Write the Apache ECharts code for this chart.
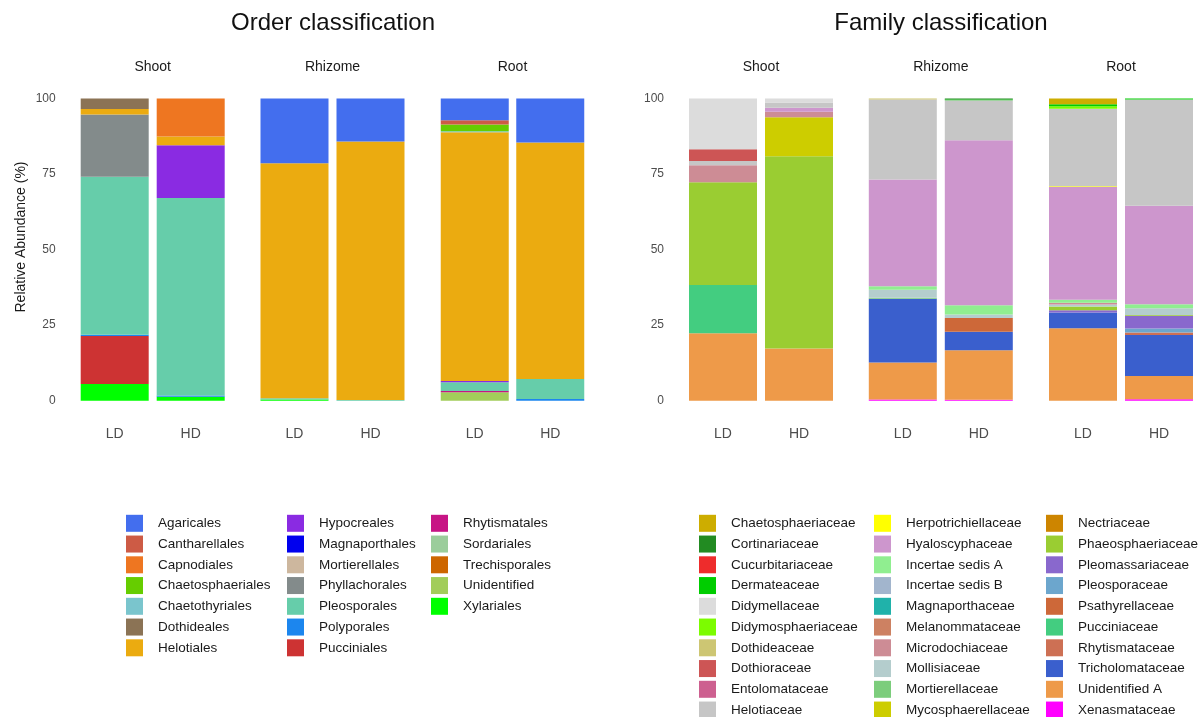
<!DOCTYPE html>
<html>
<head>
<meta charset="utf-8">
<script src="https://cdn.jsdelivr.net/npm/echarts@6/dist/echarts.min.js"></script>
<style>
html,body{margin:0;padding:0;background:#fff;}
#chart{width:1203px;height:717px;}
</style>
</head>
<body>
<div id="chart"></div>
<script>
// ---------- data ----------
var sampleLabels = ['LD', 'HD'];
var facetLabels = ['Shoot', 'Rhizome', 'Root'];
var yTicks = [0, 25, 50, 75, 100];

var orderNames = ['Agaricales','Cantharellales','Capnodiales','Chaetosphaeriales','Chaetothyriales','Dothideales','Helotiales','Hypocreales','Magnaporthales','Mortierellales','Phyllachorales','Pleosporales','Polyporales','Pucciniales','Rhytismatales','Sordariales','Trechisporales','Unidentified','Xylariales'];
var orderColors = ['#436EEE','#CD5B45','#EE7621','#66CD00','#7AC5CD','#8B7355','#EBAB10','#8A2BE2','#0000EE','#CDB79E','#838B8B','#66CDAA','#1C86EE','#CD3333','#C71585','#9BCD9B','#CD6600','#A2CD5A','#00FF00'];
var orderShootLD   = [0,0,0,0,0,3.5,1.8,0,0,0,20.6,52.3,0.4,15.9,0,0,0,0,5.5];
var orderShootHD   = [0,0,12.6,0,0,0,2.9,17.4,0,0,0,65.4,0.4,0,0,0,0,0,1.3];
var orderRhizomeLD = [21.4,0,0,0,0,0,77.8,0,0,0,0,0.4,0,0,0,0,0,0,0.4];
var orderRhizomeHD = [14.2,0,0,0,0,0,85.6,0,0,0,0,0.2,0,0,0,0,0,0,0];
var orderRootLD    = [7.2,1.4,0,2.2,0.4,0,82.3,0.4,0,0,0,2.9,0,0,0.4,0,0,2.8,0];
var orderRootHD    = [14.6,0,0,0,0,0,78.2,0,0,0,0,6.6,0.6,0,0,0,0,0,0];

var familyNames = ['Chaetosphaeriaceae','Cortinariaceae','Cucurbitariaceae','Dermateaceae','Didymellaceae','Didymosphaeriaceae','Dothideaceae','Dothioraceae','Entolomataceae','Helotiaceae','Herpotrichiellaceae','Hyaloscyphaceae','Incertae sedis A','Incertae sedis B','Magnaporthaceae','Melanommataceae','Microdochiaceae','Mollisiaceae','Mortierellaceae','Mycosphaerellaceae','Nectriaceae','Phaeosphaeriaceae','Pleomassariaceae','Pleosporaceae','Psathyrellaceae','Pucciniaceae','Rhytismataceae','Tricholomataceae','Unidentified A','Xenasmataceae'];
var familyColors = ['#CDAD00','#228B22','#EE2C2C','#00CD00','#DCDCDC','#7CFC00','#CDC673','#CD5555','#CD6090','#C6C6C6','#FFFF00','#CD96CD','#90EE90','#A2B5CD','#20B2AA','#CD8162','#CD8C95','#B4CDCD','#7CCD7C','#CDCD00','#CD8500','#9ACD32','#8968CD','#6CA6CD','#CD6839','#43CD80','#CD7054','#3A5FCD','#EE9A49','#FF00FF'];
var familyShootLD   = [0,0,0,0,16.8,0,0,3.9,0,1.4,0,0,0,0,0,0,5.6,0,0,0,0,34.0,0,0,0,16.0,0,0,22.3,0];
var familyShootHD   = [0,0,0,0,1.3,0,0,0,0,1.8,0,1.3,0,0,0,0,1.8,0,0,12.9,0,63.6,0,0,0,0,0,0,17.3,0];
var familyRhizomeLD = [0,0,0,0,0,0,0.3,0,0,26.5,0,35.3,1.2,0,0,0,0,2.6,0.4,0,0,0,0,0,0,0,0,21.1,12.2,0.4];
var familyRhizomeHD = [0,0.3,0,0.3,0,0,0,0,0,13.2,0,54.6,3.1,0,0,0,0,1.1,0,0,0,0,0,0,4.6,0,0,6.1,16.4,0.3];
var familyRootLD    = [1.9,0,0,0.7,0,0.8,0,0,0,25.6,0.3,37.3,1.0,0,0,0,0.6,0.6,0,0,0,1.3,0.7,0,0,0,0,5.2,24.0,0];
var familyRootHD    = [0,0,0,0.3,0,0,0,0,0,35.2,0,32.6,1.3,0,0,0,0,2.2,0,0,0,0.3,4.2,1.3,0,0,0.9,13.5,7.7,0.5];

// ---------- layout ----------
var FONT = '"Liberation Sans", Arial, sans-serif';
var gridLefts = [76.7, 256.5, 437, 685, 864.8, 1045];
var gridWidths = [152, 152, 151, 152, 152, 152];
var GRID_TOP = 98.5, GRID_H = 302.2;

var panels = [
  {names: orderNames, colors: orderColors,
   facets: [[orderShootLD, orderShootHD], [orderRhizomeLD, orderRhizomeHD], [orderRootLD, orderRootHD]]},
  {names: familyNames, colors: familyColors,
   facets: [[familyShootLD, familyShootHD], [familyRhizomeLD, familyRhizomeHD], [familyRootLD, familyRootHD]]}
];

var grids = [], xAxes = [], yAxes = [], series = [], graphics = [];
for (var g = 0; g < 6; g++) {
  grids.push({left: gridLefts[g], top: GRID_TOP, width: gridWidths[g], height: GRID_H, containLabel: false});
  xAxes.push({
    type: 'category', gridIndex: g, data: sampleLabels,
    axisLine: {show: false}, axisTick: {show: false}, splitLine: {show: false},
    axisLabel: {fontSize: 14, color: '#4d4d4d', margin: 26, fontFamily: FONT}
  });
  yAxes.push({
    type: 'value', gridIndex: g, min: yTicks[0], max: yTicks[yTicks.length - 1], interval: 25,
    axisLine: {show: false}, axisTick: {show: false}, splitLine: {show: false},
    axisLabel: {show: (g % 3 === 0), fontSize: 12, color: '#4d4d4d', margin: 21, fontFamily: FONT}
  });
  graphics.push({
    type: 'text', x: gridLefts[g] + gridWidths[g] / 2, y: 67,
    style: {text: facetLabels[g % 3], font: '14px ' + FONT, fill: '#1a1a1a', textAlign: 'center', textVerticalAlign: 'middle'}
  });
}

panels.forEach(function (p, pi) {
  for (var f = 0; f < 3; f++) {
    var gi = pi * 3 + f;
    for (var i = p.names.length - 1; i >= 0; i--) {
      series.push({
        name: p.names[i], type: 'bar', stack: 'st' + gi,
        xAxisIndex: gi, yAxisIndex: gi, barWidth: 68,
        data: [p.facets[f][0][i], p.facets[f][1][i]],
        itemStyle: {color: p.colors[i]},
        emphasis: {disabled: true}, animation: false
      });
    }
  }
});

graphics.push({type: 'text', x: 333, y: 23.5, style: {text: 'Order classification', font: '24px ' + FONT, fill: '#111', textAlign: 'center', textVerticalAlign: 'middle'}});
graphics.push({type: 'text', x: 941, y: 23.5, style: {text: 'Family classification', font: '24px ' + FONT, fill: '#111', textAlign: 'center', textVerticalAlign: 'middle'}});
graphics.push({type: 'text', x: 21, y: 237, rotation: Math.PI / 2, style: {text: 'Relative Abundance (%)', font: '14px ' + FONT, fill: '#1a1a1a', textAlign: 'center', textVerticalAlign: 'middle'}});

function mkLegend(names, left) {
  return {
    orient: 'vertical', left: left, top: 514.8, height: 230, padding: 0,
    itemWidth: 17, itemHeight: 17, itemGap: 3.75, icon: 'rect',
    selectedMode: false, data: names,
    textStyle: {fontSize: 13.5, color: '#1a1a1a', fontFamily: FONT, padding: [0, 0, 0, 10]}
  };
}
var legends = [
  mkLegend(orderNames.slice(0, 7), 126),
  mkLegend(orderNames.slice(7, 14), 287),
  mkLegend(orderNames.slice(14), 431),
  mkLegend(familyNames.slice(0, 10), 699),
  mkLegend(familyNames.slice(10, 20), 874),
  mkLegend(familyNames.slice(20), 1046)
];

var chart = echarts.init(document.getElementById('chart'), null, {renderer: 'canvas'});
chart.setOption({
  backgroundColor: '#ffffff',
  animation: false,
  textStyle: {fontFamily: FONT},
  grid: grids, xAxis: xAxes, yAxis: yAxes,
  legend: legends, series: series, graphic: graphics
});
</script>
</body>
</html>
